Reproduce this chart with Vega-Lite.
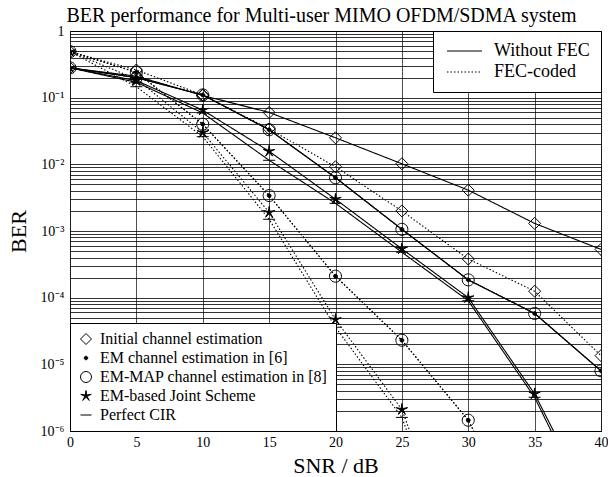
{
  "$schema": "https://vega.github.io/schema/vega-lite/v6.json",
  "width": 531,
  "height": 400,
  "autosize": {"type": "none"},
  "padding": {"left": 70, "top": 31, "right": 7, "bottom": 46},
  "background": "white",
  "config": {
    "font": "Liberation Serif",
    "view": {"stroke": "black", "strokeWidth": 1},
    "axis": {"labelColor": "black", "titleColor": "black", "labelFont": "Liberation Serif", "titleFont": "Liberation Serif", "titleFontWeight": "normal"},
    "legend": {"labelFont": "Liberation Serif", "labelColor": "black", "labelLimit": 400}
  },
  "title": {"text": "BER performance for Multi-user MIMO OFDM/SDMA system", "fontSize": 20, "fontWeight": "normal", "font": "Liberation Serif", "color": "black", "anchor": "middle", "dx": -14, "offset": -2, "frame": "group"},
  "data": {"values": [
    {"snr": 0, "ber": 0.28, "scheme": "Initial channel estimation", "fec": "Without FEC"},
    {"snr": 5, "ber": 0.21, "scheme": "Initial channel estimation", "fec": "Without FEC"},
    {"snr": 10, "ber": 0.108, "scheme": "Initial channel estimation", "fec": "Without FEC"},
    {"snr": 15, "ber": 0.06, "scheme": "Initial channel estimation", "fec": "Without FEC"},
    {"snr": 20, "ber": 0.025, "scheme": "Initial channel estimation", "fec": "Without FEC"},
    {"snr": 25, "ber": 0.0102, "scheme": "Initial channel estimation", "fec": "Without FEC"},
    {"snr": 30, "ber": 0.0041, "scheme": "Initial channel estimation", "fec": "Without FEC"},
    {"snr": 35, "ber": 0.0013, "scheme": "Initial channel estimation", "fec": "Without FEC"},
    {"snr": 40, "ber": 0.00053, "scheme": "Initial channel estimation", "fec": "Without FEC"},
    {"snr": 0, "ber": 0.28, "scheme": "EM channel estimation in [6]", "fec": "Without FEC"},
    {"snr": 5, "ber": 0.2, "scheme": "EM channel estimation in [6]", "fec": "Without FEC"},
    {"snr": 10, "ber": 0.11, "scheme": "EM channel estimation in [6]", "fec": "Without FEC"},
    {"snr": 15, "ber": 0.033, "scheme": "EM channel estimation in [6]", "fec": "Without FEC"},
    {"snr": 20, "ber": 0.0063, "scheme": "EM channel estimation in [6]", "fec": "Without FEC"},
    {"snr": 25, "ber": 0.00106, "scheme": "EM channel estimation in [6]", "fec": "Without FEC"},
    {"snr": 30, "ber": 0.000185, "scheme": "EM channel estimation in [6]", "fec": "Without FEC"},
    {"snr": 35, "ber": 0.000058, "scheme": "EM channel estimation in [6]", "fec": "Without FEC"},
    {"snr": 40, "ber": 0.000008, "scheme": "EM channel estimation in [6]", "fec": "Without FEC"},
    {"snr": 0, "ber": 0.28, "scheme": "EM-MAP channel estimation in [8]", "fec": "Without FEC"},
    {"snr": 5, "ber": 0.2, "scheme": "EM-MAP channel estimation in [8]", "fec": "Without FEC"},
    {"snr": 10, "ber": 0.11, "scheme": "EM-MAP channel estimation in [8]", "fec": "Without FEC"},
    {"snr": 15, "ber": 0.033, "scheme": "EM-MAP channel estimation in [8]", "fec": "Without FEC"},
    {"snr": 20, "ber": 0.0063, "scheme": "EM-MAP channel estimation in [8]", "fec": "Without FEC"},
    {"snr": 25, "ber": 0.00106, "scheme": "EM-MAP channel estimation in [8]", "fec": "Without FEC"},
    {"snr": 30, "ber": 0.000185, "scheme": "EM-MAP channel estimation in [8]", "fec": "Without FEC"},
    {"snr": 35, "ber": 0.000058, "scheme": "EM-MAP channel estimation in [8]", "fec": "Without FEC"},
    {"snr": 40, "ber": 0.000008, "scheme": "EM-MAP channel estimation in [8]", "fec": "Without FEC"},
    {"snr": 0, "ber": 0.28, "scheme": "EM-based Joint Scheme", "fec": "Without FEC"},
    {"snr": 5, "ber": 0.18, "scheme": "EM-based Joint Scheme", "fec": "Without FEC"},
    {"snr": 10, "ber": 0.065, "scheme": "EM-based Joint Scheme", "fec": "Without FEC"},
    {"snr": 15, "ber": 0.0157, "scheme": "EM-based Joint Scheme", "fec": "Without FEC"},
    {"snr": 20, "ber": 0.003, "scheme": "EM-based Joint Scheme", "fec": "Without FEC"},
    {"snr": 25, "ber": 0.00054, "scheme": "EM-based Joint Scheme", "fec": "Without FEC"},
    {"snr": 30, "ber": 0.0001, "scheme": "EM-based Joint Scheme", "fec": "Without FEC"},
    {"snr": 35, "ber": 0.0000036, "scheme": "EM-based Joint Scheme", "fec": "Without FEC"},
    {"snr": 40, "ber": 0.00000004, "scheme": "EM-based Joint Scheme", "fec": "Without FEC"},
    {"snr": 0, "ber": 0.28, "scheme": "Perfect CIR", "fec": "Without FEC"},
    {"snr": 5, "ber": 0.17, "scheme": "Perfect CIR", "fec": "Without FEC"},
    {"snr": 10, "ber": 0.059, "scheme": "Perfect CIR", "fec": "Without FEC"},
    {"snr": 15, "ber": 0.0115, "scheme": "Perfect CIR", "fec": "Without FEC"},
    {"snr": 20, "ber": 0.0026, "scheme": "Perfect CIR", "fec": "Without FEC"},
    {"snr": 25, "ber": 0.00048, "scheme": "Perfect CIR", "fec": "Without FEC"},
    {"snr": 30, "ber": 0.00009, "scheme": "Perfect CIR", "fec": "Without FEC"},
    {"snr": 35, "ber": 0.0000032, "scheme": "Perfect CIR", "fec": "Without FEC"},
    {"snr": 40, "ber": 0.00000003, "scheme": "Perfect CIR", "fec": "Without FEC"},
    {"snr": 0, "ber": 0.49, "scheme": "Initial channel estimation", "fec": "FEC-coded"},
    {"snr": 5, "ber": 0.26, "scheme": "Initial channel estimation", "fec": "FEC-coded"},
    {"snr": 10, "ber": 0.11, "scheme": "Initial channel estimation", "fec": "FEC-coded"},
    {"snr": 15, "ber": 0.034, "scheme": "Initial channel estimation", "fec": "FEC-coded"},
    {"snr": 20, "ber": 0.0092, "scheme": "Initial channel estimation", "fec": "FEC-coded"},
    {"snr": 25, "ber": 0.002, "scheme": "Initial channel estimation", "fec": "FEC-coded"},
    {"snr": 30, "ber": 0.00038, "scheme": "Initial channel estimation", "fec": "FEC-coded"},
    {"snr": 35, "ber": 0.000125, "scheme": "Initial channel estimation", "fec": "FEC-coded"},
    {"snr": 40, "ber": 0.0000135, "scheme": "Initial channel estimation", "fec": "FEC-coded"},
    {"snr": 0, "ber": 0.49, "scheme": "EM channel estimation in [6]", "fec": "FEC-coded"},
    {"snr": 5, "ber": 0.24, "scheme": "EM channel estimation in [6]", "fec": "FEC-coded"},
    {"snr": 10, "ber": 0.04, "scheme": "EM channel estimation in [6]", "fec": "FEC-coded"},
    {"snr": 15, "ber": 0.0034, "scheme": "EM channel estimation in [6]", "fec": "FEC-coded"},
    {"snr": 20, "ber": 0.00021, "scheme": "EM channel estimation in [6]", "fec": "FEC-coded"},
    {"snr": 25, "ber": 0.000023, "scheme": "EM channel estimation in [6]", "fec": "FEC-coded"},
    {"snr": 30, "ber": 0.00000145, "scheme": "EM channel estimation in [6]", "fec": "FEC-coded"},
    {"snr": 35, "ber": 0.000000015, "scheme": "EM channel estimation in [6]", "fec": "FEC-coded"},
    {"snr": 0, "ber": 0.49, "scheme": "EM-MAP channel estimation in [8]", "fec": "FEC-coded"},
    {"snr": 5, "ber": 0.24, "scheme": "EM-MAP channel estimation in [8]", "fec": "FEC-coded"},
    {"snr": 10, "ber": 0.04, "scheme": "EM-MAP channel estimation in [8]", "fec": "FEC-coded"},
    {"snr": 15, "ber": 0.0034, "scheme": "EM-MAP channel estimation in [8]", "fec": "FEC-coded"},
    {"snr": 20, "ber": 0.00021, "scheme": "EM-MAP channel estimation in [8]", "fec": "FEC-coded"},
    {"snr": 25, "ber": 0.000023, "scheme": "EM-MAP channel estimation in [8]", "fec": "FEC-coded"},
    {"snr": 30, "ber": 0.00000145, "scheme": "EM-MAP channel estimation in [8]", "fec": "FEC-coded"},
    {"snr": 35, "ber": 0.000000015, "scheme": "EM-MAP channel estimation in [8]", "fec": "FEC-coded"},
    {"snr": 0, "ber": 0.49, "scheme": "EM-based Joint Scheme", "fec": "FEC-coded"},
    {"snr": 5, "ber": 0.19, "scheme": "EM-based Joint Scheme", "fec": "FEC-coded"},
    {"snr": 10, "ber": 0.03, "scheme": "EM-based Joint Scheme", "fec": "FEC-coded"},
    {"snr": 15, "ber": 0.0019, "scheme": "EM-based Joint Scheme", "fec": "FEC-coded"},
    {"snr": 20, "ber": 0.000047, "scheme": "EM-based Joint Scheme", "fec": "FEC-coded"},
    {"snr": 25, "ber": 0.0000021, "scheme": "EM-based Joint Scheme", "fec": "FEC-coded"},
    {"snr": 30, "ber": 0.000000004, "scheme": "EM-based Joint Scheme", "fec": "FEC-coded"},
    {"snr": 0, "ber": 0.49, "scheme": "Perfect CIR", "fec": "FEC-coded"},
    {"snr": 5, "ber": 0.146, "scheme": "Perfect CIR", "fec": "FEC-coded"},
    {"snr": 10, "ber": 0.026, "scheme": "Perfect CIR", "fec": "FEC-coded"},
    {"snr": 15, "ber": 0.0015, "scheme": "Perfect CIR", "fec": "FEC-coded"},
    {"snr": 20, "ber": 0.000036, "scheme": "Perfect CIR", "fec": "FEC-coded"},
    {"snr": 25, "ber": 0.0000016, "scheme": "Perfect CIR", "fec": "FEC-coded"},
    {"snr": 30, "ber": 0.000000003, "scheme": "Perfect CIR", "fec": "FEC-coded"}
  ]},
  "encoding": {
    "x": {"field": "snr", "type": "quantitative",
      "scale": {"domain": [0, 40], "nice": false, "zero": false},
      "axis": {"values": [0, 5, 10, 15, 20, 25, 30, 35, 40], "grid": true, "gridColor": "#222", "gridWidth": 0.8, "gridOpacity": 1, "ticks": false, "domain": false, "labelFontSize": 14, "labelPadding": 4, "labelFlush": false, "labelOverlap": false, "title": "SNR / dB", "titleFontSize": 22, "titlePadding": 6}},
    "y": {"field": "ber", "type": "quantitative",
      "scale": {"type": "log", "domain": [0.000001, 1], "nice": false},
      "axis": {"values": [0.000001, 0.000002, 0.000003, 0.000004, 0.000005, 0.000006, 0.000007, 0.000008, 0.000009, 0.00001, 0.00002, 0.00003, 0.00004, 0.00005, 0.00006, 0.00007, 0.00008, 0.00009, 0.0001, 0.0002, 0.0003, 0.0004, 0.0005, 0.0006, 0.0007, 0.0008, 0.0009, 0.001, 0.002, 0.003, 0.004, 0.005, 0.006, 0.007, 0.008, 0.009, 0.01, 0.02, 0.03, 0.04, 0.05, 0.06, 0.07, 0.08, 0.09, 0.1, 0.2, 0.3, 0.4, 0.5, 0.6, 0.7, 0.8, 0.9, 1],
        "labelExpr": "datum.value == 1 ? '1' : datum.value == 0.1 ? '10⁻¹' : datum.value == 0.01 ? '10⁻²' : datum.value == 0.001 ? '10⁻³' : datum.value == 0.0001 ? '10⁻⁴' : datum.value == 0.00001 ? '10⁻⁵' : datum.value == 0.000001 ? '10⁻⁶' : ''",
        "grid": true, "gridColor": "black", "gridWidth": 0.8, "gridOpacity": 1, "ticks": false, "domain": false, "labelFontSize": 14, "labelPadding": 6, "labelOverlap": false, "labelBound": false, "labelFlush": false, "title": "BER", "titleFontSize": 22, "titlePadding": 10}}
  },
  "layer": [
    {
      "mark": {"type": "line", "clip": true, "color": "black", "strokeWidth": 1.1},
      "encoding": {
        "detail": {"field": "scheme", "type": "nominal"},
        "order": {"field": "snr", "type": "quantitative"},
        "strokeDash": {"field": "fec", "type": "nominal",
          "scale": {"domain": ["Without FEC", "FEC-coded"], "range": [[1, 0], [1.5, 2]]},
          "legend": {"title": null, "orient": "top-right", "offset": 0, "padding": 11, "strokeColor": "black", "fillColor": "white", "cornerRadius": 0, "labelFontSize": 18, "labelOffset": 32, "symbolType": "M-1,0L4.833,0", "symbolSize": 144, "symbolStrokeWidth": 1.2, "symbolStrokeColor": "black", "rowPadding": 3}}
      }
    },
    {
      "mark": {"type": "point", "clip": true, "strokeWidth": 1, "opacity": 1, "size": 144},
      "encoding": {
        "shape": {"field": "scheme", "type": "nominal",
          "scale": {"domain": ["Initial channel estimation", "EM channel estimation in [6]", "EM-MAP channel estimation in [8]", "EM-based Joint Scheme", "Perfect CIR"],
            "range": ["M0,-1L1,0L0,1L-1,0Z", "M0,-0.32A0.32,0.32 0 1 1 0,0.32A0.32,0.32 0 1 1 0,-0.32Z", "M0,-1A1,1 0 1 1 0,1A1,1 0 1 1 0,-1Z", "M0,-1L0.12,-0.17L0.951,-0.309L0.2,0.065L0.588,0.809L0,0.21L-0.588,0.809L-0.2,0.065L-0.951,-0.309L-0.12,-0.17Z", "M-1,0L1,0"]},
          "legend": {"title": null, "orient": "bottom-left", "offset": 0, "padding": 8, "strokeColor": "black", "fillColor": "white", "cornerRadius": 0, "labelFontSize": 16, "labelOffset": 6, "symbolSize": 121, "symbolStrokeWidth": 1, "rowPadding": 3}},
        "fill": {"field": "scheme", "type": "nominal",
          "scale": {"domain": ["Initial channel estimation", "EM channel estimation in [6]", "EM-MAP channel estimation in [8]", "EM-based Joint Scheme", "Perfect CIR"],
            "range": ["transparent", "black", "transparent", "black", "black"]},
          "legend": {"title": null, "orient": "bottom-left", "offset": 0, "padding": 8, "strokeColor": "black", "fillColor": "white", "cornerRadius": 0, "labelFontSize": 16, "labelOffset": 6, "symbolSize": 121, "symbolStrokeWidth": 1, "rowPadding": 3}},
        "stroke": {"field": "scheme", "type": "nominal",
          "scale": {"domain": ["Initial channel estimation", "EM channel estimation in [6]", "EM-MAP channel estimation in [8]", "EM-based Joint Scheme", "Perfect CIR"],
            "range": ["black", "black", "black", "black", "black"]},
          "legend": {"title": null, "orient": "bottom-left", "offset": 0, "padding": 8, "strokeColor": "black", "fillColor": "white", "cornerRadius": 0, "labelFontSize": 16, "labelOffset": 6, "symbolSize": 121, "symbolStrokeWidth": 1, "rowPadding": 3}}
      }
    }
  ]
}
